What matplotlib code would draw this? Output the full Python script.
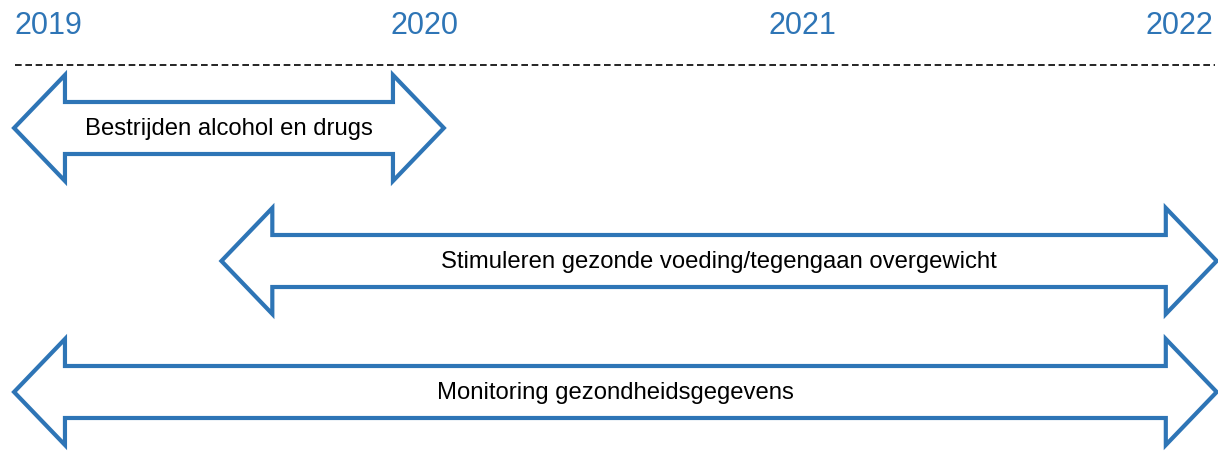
import matplotlib.pyplot as plt
from matplotlib.patches import Polygon

plt.rcParams['font.family'] = ['Liberation Sans', 'DejaVu Sans']

years = [2019, 2020, 2021, 2022]
tasks = ['Bestrijden alcohol en drugs',
         'Stimuleren gezonde voeding/tegengaan overgewicht',
         'Monitoring gezondheidsgegevens']
starts = [2018.91, 2019.46, 2018.91]   # arrow tip left (year)
ends = [2020.05, 2022.10, 2022.10]     # arrow tip right (year)

blue = '#2E75B6'
rows = [128, 261, 392]  # vertical centre of each arrow (px-like units)
head_len = 0.135        # in years
head_h = 53
shaft_h = 26

fig = plt.figure(figsize=(12.18, 4.62), dpi=100)
ax = fig.add_axes([0, 0, 1, 1])
ax.set_xlim(2019 - 48 / 377.0, 2019 + 1170 / 377.0)
ax.set_ylim(462, 0)
ax.axis('off')

for yr in years:
    ax.text(yr, 26, str(yr), color=blue, fontsize=22, ha='center', va='center')

ax.plot([2019 - 33 / 377.0, 2019 + 1167 / 377.0], [65, 65], color='black',
        lw=1.2, dashes=(4, 2.2))

for name, s, e, y in zip(tasks, starts, ends, rows):
    pts = [(s, y), (s + head_len, y - head_h), (s + head_len, y - shaft_h),
           (e - head_len, y - shaft_h), (e - head_len, y - head_h), (e, y),
           (e - head_len, y + head_h), (e - head_len, y + shaft_h),
           (s + head_len, y + shaft_h), (s + head_len, y + head_h)]
    ax.add_patch(Polygon(pts, closed=True, facecolor='white', edgecolor=blue,
                         lw=3, joinstyle='miter', clip_on=True))
    ax.text((s + e) / 2, y + 1, name, fontsize=17.2, ha='center', va='center',
            color='black')

fig.savefig('out.png', dpi=100)
